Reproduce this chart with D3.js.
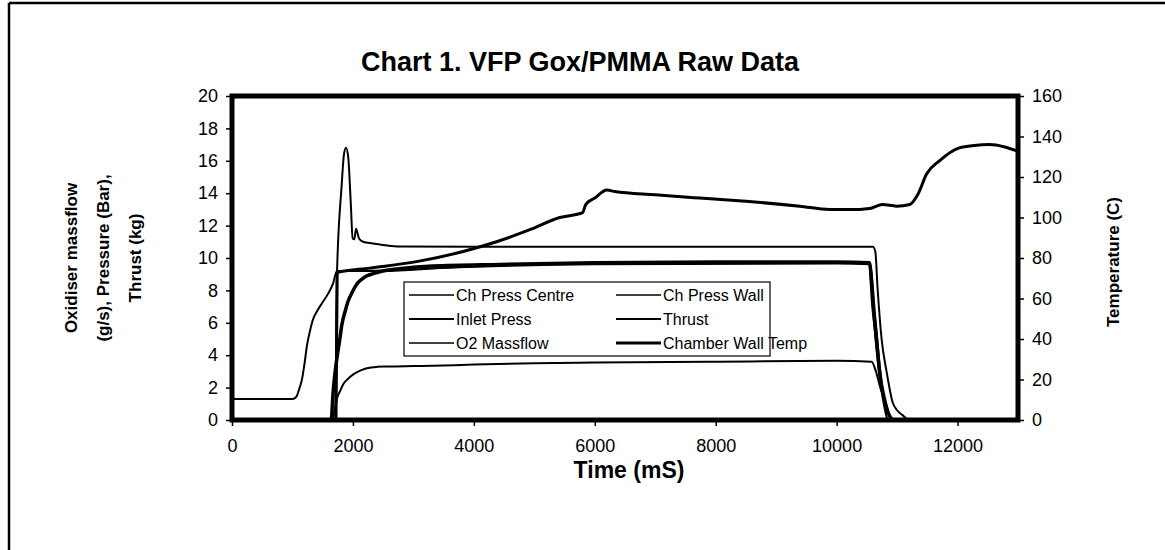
<!DOCTYPE html>
<html>
<head>
<meta charset="utf-8">
<script src="https://cdn.jsdelivr.net/npm/d3@7"></script>
<style>
  body { margin: 0; background: #fff; }
  svg { display: block; font-family: "Liberation Sans", Arial, sans-serif; }
</style>
</head>
<body>
<svg id="chart" width="1165" height="550"></svg>
<script>
// ---- data ----
var xTicks = [0, 2000, 4000, 6000, 8000, 10000, 12000];
var yLeftTicks = [0, 2, 4, 6, 8, 10, 12, 14, 16, 18, 20];
var yRightTicks = [0, 20, 40, 60, 80, 100, 120, 140, 160];

// Ch Press Centre (bar)
var tCentre = [0, 1700, 1720, 1732, 1814, 1852, 1886, 1923, 1963, 1996, 2023, 2051, 2101, 2167, 2332, 2564, 2779, 4000, 6000, 8000, 10000, 10600, 10640, 10678, 10744, 10826, 10926, 11000, 11091, 11200, 13000];
var chPressCentre = [0, 0, 0.3, 8.5, 14.5, 16.4, 16.8, 16.2, 13.5, 11.2, 11.15, 11.8, 11.2, 11.0, 10.9, 10.77, 10.71, 10.7, 10.7, 10.7, 10.7, 10.7, 10.4, 8.1, 5.0, 3.0, 1.1, 0.6, 0.3, 0, 0];

// Ch Press Wall (bar)
var tWall = [0, 1640, 1672, 1700, 1735, 1780, 1818, 1870, 1917, 1990, 2066, 2150, 2231, 2350, 2496, 2800, 3322, 4430, 6000, 8000, 10000, 10545, 10600, 10660, 10710, 10790, 10870, 10950, 13000];
var chPressWall = [0, 0, 1.7, 2.8, 3.8, 4.9, 5.9, 6.7, 7.3, 7.9, 8.4, 8.7, 8.9, 9.05, 9.2, 9.35, 9.5, 9.6, 9.7, 9.75, 9.75, 9.7, 7.1, 5.0, 3.0, 1.3, 0.3, 0, 0];

// Inlet Press (bar)
var tInlet = [0, 1000, 1040, 1074, 1110, 1157, 1200, 1240, 1290, 1339, 1420, 1504, 1590, 1669, 1736, 2500, 3500, 4500, 6000, 10000, 10540, 10570, 10620, 10700, 10780, 10850, 13000];
var inletPress = [1.3, 1.3, 1.35, 1.5, 1.9, 2.5, 3.5, 4.6, 5.5, 6.2, 6.8, 7.3, 7.8, 8.4, 9.2, 9.2, 9.4, 9.55, 9.65, 9.7, 9.65, 8.5, 6.0, 3.0, 1.0, 0, 0];

// Thrust (kg)
var tThrust = [0, 1640, 1650, 1700, 1735, 1790, 1840, 1920, 2000, 2120, 2231, 2400, 2560, 3000, 3320, 4000, 5000, 6000, 8000, 10000, 10580, 10650, 10730, 10810, 10870, 10920, 13000];
var thrust = [0, 0, 0.05, 0.6, 1.3, 1.8, 2.2, 2.55, 2.8, 3.05, 3.2, 3.28, 3.3, 3.33, 3.35, 3.42, 3.5, 3.55, 3.6, 3.65, 3.6, 3.0, 1.9, 1.1, 0.3, 0, 0];

// O2 Massflow (g/s)
var tO2 = [0, 1700, 1740, 2500, 4000, 6000, 10000, 10560, 10640, 10720, 10800, 10850, 13000];
var o2Massflow = [0, 0, 9.2, 9.25, 9.45, 9.6, 9.65, 9.6, 6.5, 3.2, 0.9, 0, 0];

// Chamber Wall Temp (C), right axis
var tTemp = [0, 1700, 1720, 1740, 2281, 3052, 3823, 4375, 4926, 5420, 5800, 5850, 6000, 6200, 6330, 7000, 7735, 8500, 9390, 9884, 10380, 10545, 10760, 10990, 11210, 11340, 11490, 11700, 12030, 12280, 12530, 12780, 12910, 13000];
var wallTemp = [0, 0, 1.6, 72.8, 75, 78.2, 83.2, 88, 94, 100, 102.4, 106.4, 109.6, 113.6, 112.8, 111.2, 109.6, 108, 105.6, 104, 104, 104.4, 106.4, 105.6, 106.4, 111.2, 121.6, 128, 134.4, 135.6, 136, 134.8, 133.6, 132.8];

var svg = d3.select("#chart");

// page frame (scan edge)
svg.append("line").attr("x1", 9).attr("y1", 3).attr("x2", 1165).attr("y2", 3)
  .attr("stroke", "#000").attr("stroke-width", 2.5);
svg.append("line").attr("x1", 9).attr("y1", 3).attr("x2", 9).attr("y2", 550)
  .attr("stroke", "#000").attr("stroke-width", 2.5);

var plot = { left: 232, right: 1018, top: 96, bottom: 420 };

var x = d3.scaleLinear().domain([0, 13000]).range([plot.left, plot.right]);
var yL = d3.scaleLinear().domain([0, 20]).range([plot.bottom, plot.top]);
var yR = d3.scaleLinear().domain([0, 160]).range([plot.bottom, plot.top]);

// axes
var gx = svg.append("g")
  .attr("transform", "translate(0," + plot.bottom + ")")
  .call(d3.axisBottom(x).tickValues(xTicks).tickSize(6).tickPadding(13).tickFormat(d3.format("d")));
var gl = svg.append("g")
  .attr("transform", "translate(" + plot.left + ",0)")
  .call(d3.axisLeft(yL).tickValues(yLeftTicks).tickSize(6).tickPadding(8));
var gr = svg.append("g")
  .attr("transform", "translate(" + plot.right + ",0)")
  .call(d3.axisRight(yR).tickValues(yRightTicks).tickSize(6).tickPadding(8));

[gx, gl, gr].forEach(function(g) {
  g.select(".domain").remove();
  g.selectAll("line").attr("stroke", "#000").attr("stroke-width", 1.5);
  g.selectAll("text").attr("fill", "#000").style("font-size", "18px");
});

// series
function drawLine(ts, vs, scale, width) {
  var pts = ts.map(function(t, i) { return [t, vs[i]]; });
  svg.append("path")
    .datum(pts)
    .attr("fill", "none")
    .attr("stroke", "#000")
    .attr("stroke-width", width)
    .attr("stroke-linejoin", "round")
    .attr("d", d3.line()
      .x(function(d) { return x(d[0]); })
      .y(function(d) { return scale(d[1]); })
      .curve(d3.curveMonotoneX));
}

drawLine(tInlet, inletPress, yL, 2);
drawLine(tO2, o2Massflow, yL, 1.5);
drawLine(tThrust, thrust, yL, 2);
drawLine(tWall, chPressWall, yL, 3.5);
drawLine(tCentre, chPressCentre, yL, 2);
drawLine(tTemp, wallTemp, yR, 3);

// plot frame
svg.append("rect")
  .attr("x", plot.left).attr("y", plot.top)
  .attr("width", plot.right - plot.left).attr("height", plot.bottom - plot.top)
  .attr("fill", "none").attr("stroke", "#000").attr("stroke-width", 5);

// legend
var legendItems = [
  { name: "Ch Press Centre", w: 1.5 }, { name: "Ch Press Wall", w: 1.5 },
  { name: "Inlet Press", w: 2 }, { name: "Thrust", w: 2 },
  { name: "O2 Massflow", w: 1.5 }, { name: "Chamber Wall Temp", w: 3 }
];
var lg = svg.append("g");
lg.append("rect").attr("x", 404).attr("y", 282).attr("width", 366).attr("height", 74)
  .attr("fill", "#fff").attr("stroke", "#000").attr("stroke-width", 1.2);
legendItems.forEach(function(d, i) {
  var cx = i % 2 === 0 ? 409 : 616;
  var cy = 295 + Math.floor(i / 2) * 24;
  lg.append("line").attr("x1", cx).attr("x2", cx + 45).attr("y1", cy).attr("y2", cy)
    .attr("stroke", "#000").attr("stroke-width", d.w);
  lg.append("text").attr("x", cx + 47).attr("y", cy).attr("dy", "0.36em")
    .style("font-size", "16px").text(d.name);
});

// titles
svg.append("text").attr("x", 580).attr("y", 71).attr("text-anchor", "middle")
  .style("font-size", "27px").style("font-weight", "bold")
  .text("Chart 1. VFP Gox/PMMA Raw Data");

svg.append("text").attr("x", (plot.left + plot.right) / 2 + 4).attr("y", 478).attr("text-anchor", "middle")
  .style("font-size", "23px").style("font-weight", "bold").text("Time (mS)");

var leftTitle = ["Oxidiser massflow", "(g/s), Pressure (Bar),", "Thrust (kg)"];
leftTitle.forEach(function(s, i) {
  svg.append("text")
    .attr("transform", "translate(" + (71 + i * 32) + ",258) rotate(-90)")
    .attr("text-anchor", "middle").attr("dy", "0.35em")
    .style("font-size", "17px").style("font-weight", "bold").text(s);
});

svg.append("text")
  .attr("transform", "translate(1113,262) rotate(-90)")
  .attr("text-anchor", "middle").attr("dy", "0.35em")
  .style("font-size", "17px").style("font-weight", "bold").text("Temperature (C)");
</script>
</body>
</html>
